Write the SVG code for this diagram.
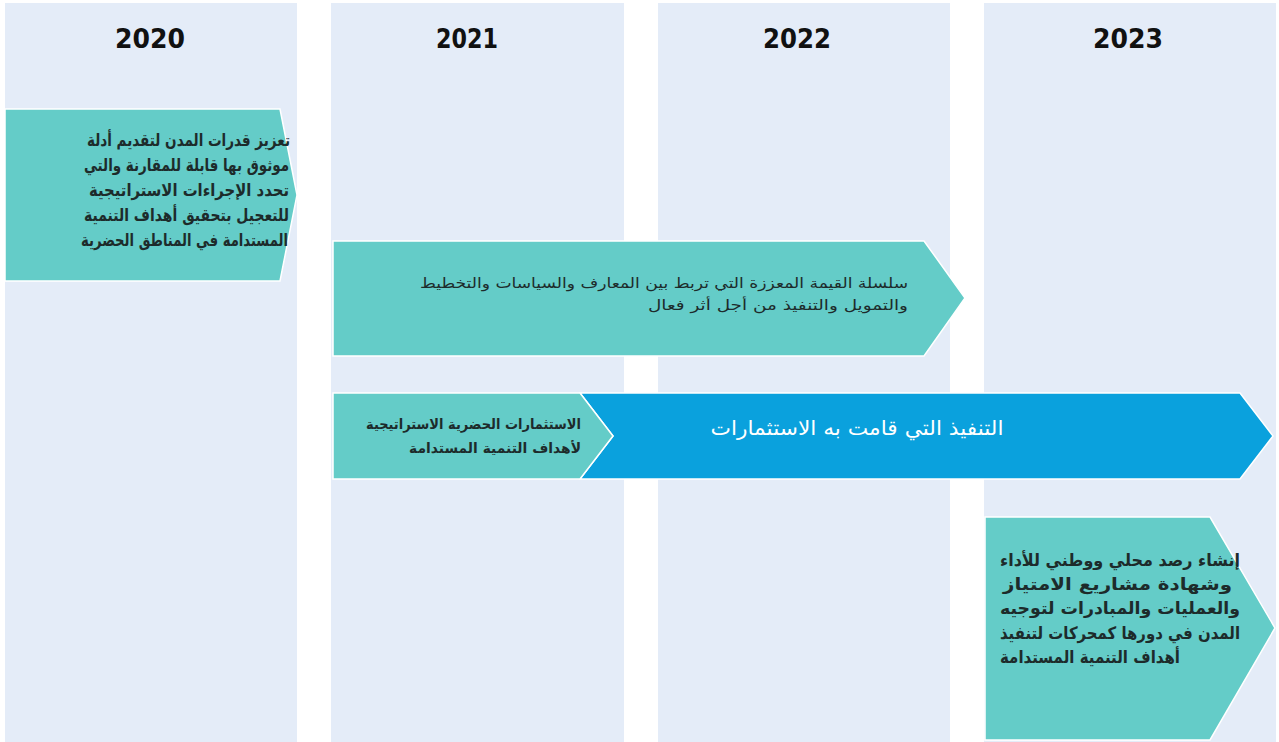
<svg xmlns="http://www.w3.org/2000/svg" width="1279" height="742" viewBox="0 0 1279 742">
<style>
.col{fill:#e4ecf8}
.teal{fill:#64ccc8;stroke:#ffffff;stroke-width:1.5}
.blue{fill:#0aa1dd;stroke:#ffffff;stroke-width:1.5}
.yr{font-family:"DejaVu Sans Condensed","DejaVu Sans",sans-serif;font-weight:bold;font-size:27px;fill:#111;text-anchor:middle}
.ar{font-family:"DejaVu Sans","Noto Sans",sans-serif;fill:#1d2b2b}
.b{font-weight:bold}
</style>
<rect width="1279" height="742" fill="#ffffff"/>
<g id="columns">
<rect class="col" x="5" y="3" width="292" height="739"/>
<rect class="col" x="331" y="3" width="293" height="739"/>
<rect class="col" x="658" y="3" width="292" height="739"/>
<rect class="col" x="984" y="3" width="292" height="739"/>
</g>
<g id="years">
<text class="yr" x="150" y="48" textLength="70" lengthAdjust="spacingAndGlyphs">2020</text>
<text class="yr" x="467" y="48" textLength="62" lengthAdjust="spacingAndGlyphs">2021</text>
<text class="yr" x="797" y="48" textLength="68" lengthAdjust="spacingAndGlyphs">2022</text>
<text class="yr" x="1128" y="48" textLength="70" lengthAdjust="spacingAndGlyphs">2023</text>
</g>
<g id="node-2020">
<polygon class="teal" points="5,109 280,109 297,195 280,281 5,281"/>
<text class="ar b" font-size="17" text-anchor="end" x="290" y="146" textLength="203" lengthAdjust="spacingAndGlyphs">تعزيز قدرات المدن لتقديم أدلة</text>
<text class="ar b" font-size="17" text-anchor="end" x="289" y="171" textLength="205" lengthAdjust="spacingAndGlyphs">موثوق بها قابلة للمقارنة والتي</text>
<text class="ar b" font-size="17" text-anchor="end" x="289" y="196" textLength="200" lengthAdjust="spacingAndGlyphs">تحدد الإجراءات الاستراتيجية</text>
<text class="ar b" font-size="17" text-anchor="end" x="289" y="221" textLength="205" lengthAdjust="spacingAndGlyphs">للتعجيل بتحقيق أهداف التنمية</text>
<text class="ar b" font-size="17" text-anchor="end" x="288" y="246" textLength="207" lengthAdjust="spacingAndGlyphs">المستدامة في المناطق الحضرية</text>
</g>
<g id="node-value-chain">
<polygon class="teal" points="333,241 924,241 965,298 924,356 333,356"/>
<text class="ar" font-size="14" text-anchor="end" x="908" y="288" textLength="488" lengthAdjust="spacingAndGlyphs">سلسلة القيمة المعززة التي تربط بين المعارف والسياسات والتخطيط</text>
<text class="ar" font-size="14" text-anchor="end" x="908" y="310" textLength="260" lengthAdjust="spacingAndGlyphs">والتمويل والتنفيذ من أجل أثر فعال</text>
</g>
<g id="node-implementation">
<polygon class="blue" points="580,393 1240,393 1273,436 1240,479 580,479 613,436"/>
<text font-family="DejaVu Sans, sans-serif" font-size="20" fill="#ffffff" text-anchor="middle" x="857" y="435" textLength="293" lengthAdjust="spacingAndGlyphs">التنفيذ التي قامت به الاستثمارات</text>
</g>
<g id="node-investments">
<polygon class="teal" points="333,393 580,393 613,436 580,479 333,479"/>
<text class="ar b" font-size="14" text-anchor="end" x="581" y="429" textLength="215" lengthAdjust="spacingAndGlyphs">الاستثمارات الحضرية الاستراتيجية</text>
<text class="ar b" font-size="14" text-anchor="end" x="581" y="453" textLength="172" lengthAdjust="spacingAndGlyphs">لأهداف التنمية المستدامة</text>
</g>
<g id="node-2023">
<polygon class="teal" points="985,517 1210,517 1275,628 1210,740 985,740"/>
<text class="ar b" font-size="17" text-anchor="start" x="1000" y="566" textLength="240" lengthAdjust="spacingAndGlyphs">إنشاء رصد محلي ووطني للأداء</text>
<text class="ar b" font-size="17" text-anchor="start" x="1003" y="590" textLength="229" lengthAdjust="spacingAndGlyphs">وشهادة مشاريع الامتياز</text>
<text class="ar b" font-size="17" text-anchor="start" x="1000" y="614" textLength="240" lengthAdjust="spacingAndGlyphs">والعمليات والمبادرات لتوجيه</text>
<text class="ar b" font-size="17" text-anchor="start" x="1000" y="639" textLength="240" lengthAdjust="spacingAndGlyphs">المدن في دورها كمحركات لتنفيذ</text>
<text class="ar b" font-size="17" text-anchor="start" x="1000" y="663" textLength="180" lengthAdjust="spacingAndGlyphs">أهداف التنمية المستدامة</text>
</g>
<g id="connectors"></g>
</svg>
